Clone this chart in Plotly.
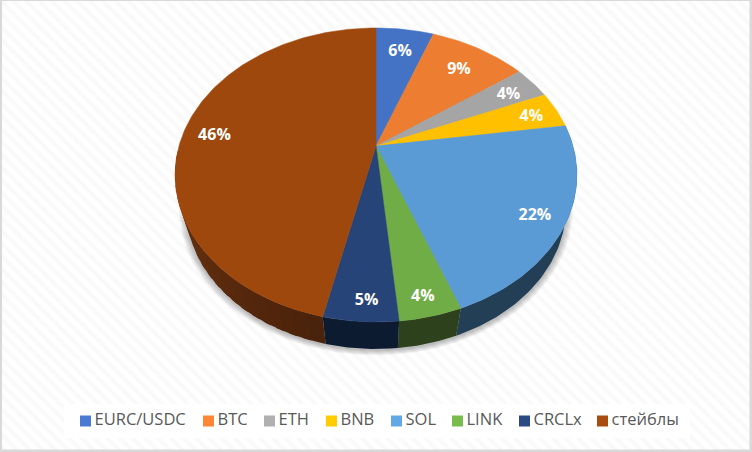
import math
import plotly.graph_objects as go

categories = ["EURC/USDC", "BTC", "ETH", "BNB", "SOL", "LINK", "CRCLx", "стейблы"]
values = [5.6, 9.4, 3.6, 4.0, 21.6, 4.2, 5.0, 46.4]
labels = ["6%", "9%", "4%", "4%", "22%", "4%", "5%", "46%"]
top_colors = ["#4472C4", "#ED7D31", "#A5A5A5", "#FFC000", "#5B9BD5", "#70AD47", "#264478", "#9E480E"]
legend_colors = ["#4A7BD4", "#FF8636", "#B0B0B0", "#FFCC00", "#62A8E6", "#79BB4D", "#2A4A82", "#A84D0F"]
side_colors = ["#2A4A82", "#8F4A1C", "#666666", "#997300", "#223F56", "#2D411C", "#0D1B31", "#66300F"]
legend_slots = [85.5, 208.5, 269.5, 331.5, 396.5, 457.5, 524.5, 602.5]
label_radius = [0.805, 0.783, 0.834, 0.856, 0.856, 0.895, 0.894, 0.84]
label_nudge_x = [0, 0, 0, 0, 0, -1, 4, 0]

# perspective projection of the unit disc onto the picture
CX, APEX_Y, PX, PY, K = 376.0, 146.0, 197.0, 141.3, 0.197
SX, SY, CY, BOTTOM_CY = 0.945, 0.959, 175.0, 208.0


def project_r(theta, r=1.0):
    u, v = r * math.sin(theta), r * math.cos(theta)
    w = 1 + K * v
    return CX + PX * u / w, APEX_Y - PY * v / w


def lower(p):
    return CX + SX * (p[0] - CX), BOTTOM_CY + SY * (p[1] - CY)


def arc(a0, a1):
    n = max(2, int(abs(a1 - a0) / math.radians(1)) + 1)
    return [project_r(a0 + (a1 - a0) * i / n) for i in range(n + 1)]


def shade(hex_color, f):
    rgb = [int(hex_color[i:i + 2], 16) for i in (1, 3, 5)]
    return "rgb(%d,%d,%d)" % tuple(min(255, round(c * f)) for c in rgb)


def poly_trace(pts, color, **kw):
    return go.Scatter(x=[p[0] for p in pts], y=[p[1] for p in pts], mode="lines", fill="toself",
                      line=dict(width=0), fillcolor=color, hoverinfo="skip", showlegend=False, **kw)


fig = go.Figure()

# background panel with hatch
fig.add_trace(poly_trace([(2, 1), (749.5, 1), (749.5, 449.5), (2, 449.5), (2, 1)], "#FFFFFF",
                         fillpattern=dict(shape="\\", fgcolor="#F4F4F4", bgcolor="#FFFFFF", size=9, solidity=0.45)))
fig.add_trace(poly_trace([(64, 404), (690, 404), (690, 438), (64, 438), (64, 404)], "#FFFFFF"))

# soft shadow
full = arc(0, 2 * math.pi)
for i in range(7):
    grow = 1.0 + (7 - i) * 0.0055
    pts = [lower(p) for p in full]
    fig.add_trace(poly_trace([(CX + (p[0] - CX) * grow, BOTTOM_CY + (p[1] - BOTTOM_CY) * grow + 1) for p in pts],
                             "rgba(0,0,0,0.04)"))

# slice angles from the values
total = sum(values)
angles = [0.0]
for val in values:
    angles.append(angles[-1] + val / total * 2 * math.pi)

# side wall; the large slice is cut into overlapping strips so it can carry a gradient
for i, col in enumerate(side_colors):
    a0, a1 = angles[i], angles[i + 1]
    if categories[i] == "стейблы":
        start = a0
        end = a0 + (a1 - a0) * 0.45
        steps = 20
        for s in range(steps):
            t0 = start + (end - start) * s / steps
            t1 = min(end, start + (end - start) * (s + 1.6) / steps)
            f = 0.72 + 0.38 * (s / (steps - 1))
            top_pts = arc(t0, t1)
            fig.add_trace(poly_trace(top_pts + [lower(p) for p in reversed(top_pts)] + [top_pts[0]], shade(col, f)))
    elif math.cos((a0 + a1) / 2) < 0.15:
        top_pts = arc(a0, a1)
        fig.add_trace(poly_trace(top_pts + [lower(p) for p in reversed(top_pts)] + [top_pts[0]], col))

# top face
for i, name in enumerate(categories):
    pts = [(CX, APEX_Y)] + arc(angles[i], angles[i + 1]) + [(CX, APEX_Y)]
    fig.add_trace(go.Scatter(x=[p[0] for p in pts], y=[p[1] for p in pts], mode="lines", fill="toself",
                             line=dict(width=0.5, color=top_colors[i]), fillcolor=top_colors[i],
                             name=name, showlegend=False, hoverinfo="name"))

# data labels
lx, ly = [], []
for i in range(len(values)):
    mid = (angles[i] + angles[i + 1]) / 2
    p = project_r(mid, label_radius[i])
    lx.append(p[0] + label_nudge_x[i])
    ly.append(p[1] + 2.5)
fig.add_trace(go.Scatter(x=lx, y=ly, mode="text", text=labels, textposition="middle center",
                         textfont=dict(family="Open Sans", size=16, color="#FFFFFF", weight="bold"),
                         hoverinfo="skip", showlegend=False))

# legend row
for name, col, slot in zip(categories, legend_colors, legend_slots):
    fig.add_trace(go.Scatter(x=[slot], y=[421], mode="markers", name=name, hoverinfo="name", showlegend=False,
                             marker=dict(symbol="square", size=11, color=col)))
    fig.add_trace(go.Scatter(x=[slot + 9], y=[421], mode="text", text=[name], textposition="middle right",
                             hoverinfo="skip", showlegend=False,
                             textfont=dict(family="Open Sans", size=16.5, color="#595959")))

fig.update_layout(
    width=752, height=452, margin=dict(l=0, r=0, t=0, b=0),
    paper_bgcolor="#D9D9D9", plot_bgcolor="#D9D9D9",
    xaxis=dict(range=[0, 752], visible=False, fixedrange=True),
    yaxis=dict(range=[452, 0], visible=False, fixedrange=True),
    showlegend=False,
)
fig.write_html("out.html", config={"displayModeBar": False},
               post_script="document.body.style.margin='0';document.documentElement.style.overflow='hidden';")
